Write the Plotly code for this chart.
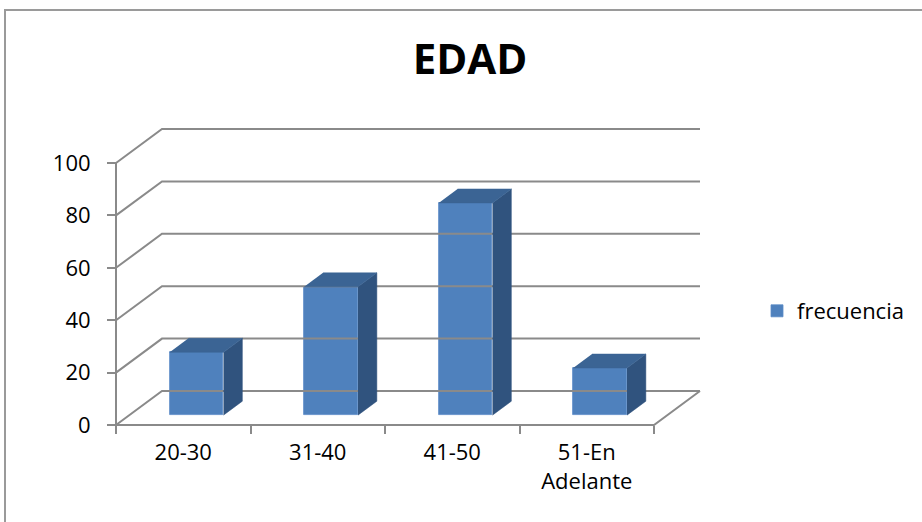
import plotly.graph_objects as go

# ---- data ----
categories = ["20-30", "31-40", "41-50", "51-En<br>Adelante"]
frecuencia = [24, 49, 81, 18]
y_ticks = [0, 20, 40, 60, 80, 100]
series_name = "frecuencia"
chart_title = "EDAD"

# ---- oblique "3-D" projection setup (pixels) ----
W, H = 922, 522
ORIGIN_X, ORIGIN_Y = 116, 425       # front-left corner of the floor
CAT_PX = 134.5                      # width of one category slot
VAL_PX = 2.62                       # pixels per value unit
DEPTH_X_PX, DEPTH_Y_PX = 46, 34     # depth of the walls
PAD_L, PAD_R, PAD_T, PAD_B = 12, 4, 4, 12

BAR_W = 0.40                        # bar width, in category units
BAR_FRONT, BAR_BACK = 0.29, 0.70    # bar position along the depth (0 = front, 1 = back wall)

FRONT = "#4F81BD"
TOP = "#3B6494"
SIDE = "#30537E"
GRID = "#8A8A8A"
FONT = "Open Sans"

DX = DEPTH_X_PX / CAT_PX
DY = DEPTH_Y_PX / VAL_PX
n = len(categories)
vmax = y_ticks[-1]

x_lo = -PAD_L / CAT_PX
x_hi = n + DX + PAD_R / CAT_PX
y_lo = -PAD_B / VAL_PX
y_hi = vmax + DY + PAD_T / VAL_PX

m_l = ORIGIN_X + x_lo * CAT_PX
m_r = W - (ORIGIN_X + x_hi * CAT_PX)
m_b = H - (ORIGIN_Y - y_lo * VAL_PX)
m_t = ORIGIN_Y - y_hi * VAL_PX
plot_w = W - m_l - m_r
plot_h = H - m_t - m_b


def proj(x, v, d):
    """Project a point (category x, value v, depth d) onto the page plane."""
    return x + d * DX, v + d * DY


def px_to_paper_x(px):
    return (px - m_l) / plot_w


def px_to_paper_y(py):
    return (H - m_b - py) / plot_h


fig = go.Figure()

# walls: gridlines run from the front edge back, then along the back wall
for v in y_ticks:
    pts = [proj(0, v, 0), proj(0, v, 1), proj(n, v, 1)]
    fig.add_trace(go.Scatter(
        x=[p[0] for p in pts], y=[p[1] for p in pts], mode="lines",
        line=dict(color=GRID, width=2), hoverinfo="skip", showlegend=False))

# front vertical axis line and floor edges
for pts in ([proj(0, 0, 0), proj(0, vmax, 0)],
            [proj(0, 0, 0), proj(n, 0, 0), proj(n, 0, 1)]):
    fig.add_trace(go.Scatter(
        x=[p[0] for p in pts], y=[p[1] for p in pts], mode="lines",
        line=dict(color=GRID, width=2), hoverinfo="skip", showlegend=False))

# side and top faces of each bar
for i, v in enumerate(frecuencia):
    x0 = i + 0.5 - BAR_W / 2
    x1 = i + 0.5 + BAR_W / 2
    side = [proj(x1, 0, BAR_FRONT), proj(x1, 0, BAR_BACK),
            proj(x1, v, BAR_BACK), proj(x1, v, BAR_FRONT)]
    top = [proj(x0, v, BAR_FRONT), proj(x1, v, BAR_FRONT),
           proj(x1, v, BAR_BACK), proj(x0, v, BAR_BACK)]
    for face, col in ((side, SIDE), (top, TOP)):
        fig.add_trace(go.Scatter(
            x=[p[0] for p in face], y=[p[1] for p in face],
            mode="lines", fill="toself", fillcolor=col,
            line=dict(color=col, width=0.5), hoverinfo="skip", showlegend=False))

# front faces of the bars
fig.add_trace(go.Bar(
    x=[i + 0.5 + BAR_FRONT * DX for i in range(n)],
    y=frecuencia,
    base=BAR_FRONT * DY,
    width=BAR_W,
    name=series_name,
    marker=dict(color=FRONT, line=dict(color="#5A8AC6", width=0.8)),
    hovertemplate="%{y}<extra></extra>",
))

fig.update_layout(
    width=W, height=H,
    margin=dict(l=m_l, r=m_r, t=m_t, b=m_b, autoexpand=False),
    paper_bgcolor="white", plot_bgcolor="rgba(0,0,0,0)",
    font=dict(family=FONT, size=22, color="black"),
    title=dict(text="<b>" + chart_title + "</b>", font=dict(size=42, family=FONT, color="black"),
               x=470 / W, xanchor="center", xref="container",
               y=1 - 45 / H, yanchor="top", yref="container"),
    bargap=0,
    showlegend=True,
    legend=dict(x=px_to_paper_x(757), xanchor="left", y=px_to_paper_y(311), yanchor="middle",
                font=dict(size=22, family=FONT), bgcolor="rgba(0,0,0,0)"),
    xaxis=dict(range=[x_lo, x_hi], showgrid=False, zeroline=False, showline=False,
               anchor="free", position=px_to_paper_y(ORIGIN_Y),
               tickmode="array", tickvals=[i + 0.5 for i in range(n)], ticktext=categories,
               ticks="", ticklabelstandoff=12,
               minor=dict(tickmode="array", tickvals=list(range(n + 1)), ticks="outside",
                          ticklen=8, tickwidth=2, tickcolor=GRID, showgrid=False)),
    yaxis=dict(range=[y_lo, y_hi], showgrid=False, zeroline=False, showline=False,
               anchor="free", position=px_to_paper_x(ORIGIN_X),
               tickmode="array", tickvals=y_ticks, ticks="outside",
               ticklen=9, tickwidth=2, tickcolor=GRID, ticklabelstandoff=12),
    shapes=[dict(type="rect", xref="paper", yref="paper",
                 x0=px_to_paper_x(5), x1=px_to_paper_x(W + 10),
                 y0=px_to_paper_y(H + 10), y1=px_to_paper_y(10),
                 line=dict(color="#9A9A9A", width=2), fillcolor="rgba(0,0,0,0)", layer="below")],
)

fig.write_html("out.html")
